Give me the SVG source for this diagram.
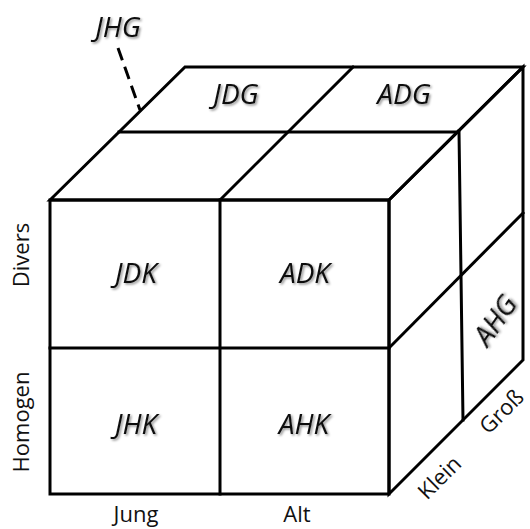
<svg xmlns="http://www.w3.org/2000/svg" width="530" height="529" viewBox="0 0 530 529">
  <defs>
    <filter id="shadow" x="-20%" y="-20%" width="140%" height="140%">
      <feDropShadow dx="1.5" dy="1.5" stdDeviation="1.2" flood-color="#000" flood-opacity="0.45"/>
    </filter>
  </defs>
  <style>
    .edge { fill: none; stroke: #000; stroke-width: 3; stroke-linejoin: miter; stroke-linecap: square; }
    .cell { font-family: "Open Sans", "Liberation Sans", sans-serif; font-style: italic; font-size: 28px; fill: #111; text-anchor: middle; filter: url(#shadow); }
    .axis { font-family: "Open Sans", "Liberation Sans", sans-serif; font-size: 22px; fill: #111; text-anchor: middle; }
  </style>
  <rect width="530" height="529" fill="#fff"/>

  <!-- cube edges -->
  <g id="connectors">
    <!-- front face -->
    <rect class="edge" x="50" y="200" width="339" height="294"/>
    <line class="edge" x1="220" y1="200" x2="220" y2="494"/>
    <line class="edge" x1="50" y1="348" x2="389" y2="348"/>
    <!-- top face -->
    <polygon class="edge" points="50,200 185,67 523,67 389,200"/>
    <line class="edge" x1="220" y1="200" x2="353" y2="67"/>
    <line class="edge" x1="119" y1="132" x2="458" y2="132"/>
    <!-- right face -->
    <polygon class="edge" points="389,200 523,67 523,360 389,494"/>
    <line class="edge" x1="389" y1="348" x2="523" y2="213"/>
    <line class="edge" x1="459" y1="131" x2="463" y2="420"/>
    <!-- pointer to the hidden back cell -->
    <line x1="118" y1="48" x2="140" y2="110" stroke="#000" stroke-width="3" stroke-dasharray="13 7"/>
  </g>

  <!-- cells -->
  <g id="JHG"><text class="cell" x="118" y="37">JHG</text></g>
  <g id="JDG"><text class="cell" x="236" y="104">JDG</text></g>
  <g id="ADG"><text class="cell" x="404" y="104">ADG</text></g>
  <g id="JDK"><text class="cell" x="136" y="283">JDK</text></g>
  <g id="ADK"><text class="cell" x="305" y="283">ADK</text></g>
  <g id="JHK"><text class="cell" x="136" y="434">JHK</text></g>
  <g id="AHK"><text class="cell" x="304" y="434">AHK</text></g>
  <g id="AHG"><text class="cell" transform="translate(495,320) rotate(-55)" x="0" y="10">AHG</text></g>

  <!-- axis labels -->
  <g id="axis-labels">
    <text class="axis" transform="translate(21,255) rotate(-90)" x="0" y="8">Divers</text>
    <text class="axis" transform="translate(21,422) rotate(-90)" x="0" y="8">Homogen</text>
    <text class="axis" x="136" y="522">Jung</text>
    <text class="axis" x="297" y="522">Alt</text>
    <text class="axis" transform="translate(440,478) rotate(-45)" x="0" y="7">Klein</text>
    <text class="axis" transform="translate(502,412) rotate(-45)" x="0" y="7">Groß</text>
  </g>
</svg>
